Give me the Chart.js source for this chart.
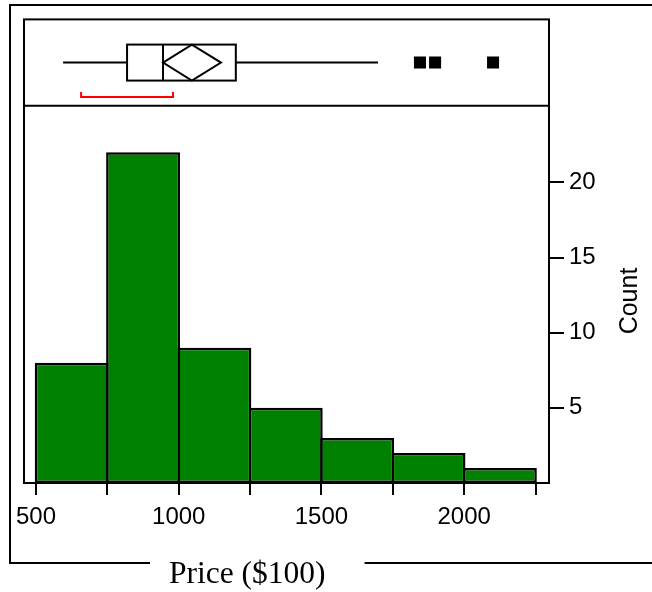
<!DOCTYPE html>
<html>
<head>
<meta charset="utf-8">
<title>Price distribution</title>
<script src="https://cdn.jsdelivr.net/npm/chart.js@4/dist/chart.umd.min.js"></script>
<style>
  html, body { margin: 0; padding: 0; background: #fff; }
  #wrap { width: 652px; height: 592px; }
</style>
</head>
<body>
<div id="wrap"><canvas id="c" width="652" height="592"></canvas></div>
<script>
// Histogram bins ($100) and the number of prices in each bin
const binEdges = [500, 750, 1000, 1250, 1500, 1750, 2000, 2250];
const binCounts = [8, 22, 9, 5, 3, 2, 1];

// Outlier box plot of the same prices
const whiskerEnds = [595, 1698];
const quartiles = [819, 1200];
const median = [945];
const meanDiamond = [945, 1046, 1148];   // lower 95% limit, mean, upper 95% limit
const shortestHalf = [658, 980];
const outliers = [1845, 1898, 2101];

// Axis ticks
const xTickMarks = [500, 750, 1000, 1250, 1500, 1750, 2000, 2250];
const xTickLabels = ['500', '', '1000', '', '1500', '', '2000', ''];
const yTickMarks = [5, 10, 15, 20];

const ROW = 'Price';
const SANS = '"Liberation Sans", Arial, sans-serif';
const SERIF = '"Liberation Serif", "Times New Roman", serif';

Chart.defaults.font.family = SANS;
Chart.defaults.color = '#000';

function seg(ctx, x1, y1, x2, y2) {
  ctx.beginPath();
  ctx.moveTo(x1, y1);
  ctx.lineTo(x2, y2);
  ctx.stroke();
}

// Box plot drawn in the strip above the histogram, on the shared x scale
const boxPlot = {
  id: 'boxPlot',
  afterDatasetsDraw(chart) {
    const { ctx, scales } = chart;
    const px = v => scales.x.getPixelForValue(v);
    const cy = scales.yBox.getPixelForValue(0);
    const h = 18;
    ctx.save();
    ctx.strokeStyle = '#000';
    ctx.lineWidth = 2;
    seg(ctx, px(whiskerEnds[0]), cy, px(quartiles[0]), cy);
    seg(ctx, px(quartiles[1]), cy, px(whiskerEnds[1]), cy);
    ctx.strokeRect(px(quartiles[0]), cy - h, px(quartiles[1]) - px(quartiles[0]), 2 * h);
    seg(ctx, px(median[0]), cy - h, px(median[0]), cy + h);
    ctx.beginPath();
    ctx.moveTo(px(meanDiamond[0]), cy);
    ctx.lineTo(px(meanDiamond[1]), cy - h);
    ctx.lineTo(px(meanDiamond[2]), cy);
    ctx.lineTo(px(meanDiamond[1]), cy + h);
    ctx.closePath();
    ctx.stroke();
    // shortest half bracket
    ctx.strokeStyle = '#ff0000';
    ctx.beginPath();
    ctx.moveTo(px(shortestHalf[0]), cy + 29.5);
    ctx.lineTo(px(shortestHalf[0]), cy + 34.5);
    ctx.lineTo(px(shortestHalf[1]), cy + 34.5);
    ctx.lineTo(px(shortestHalf[1]), cy + 29.5);
    ctx.stroke();
    ctx.restore();
  }
};

// Plot frame, outer frame and axis captions
const frames = {
  id: 'frames',
  afterDraw(chart) {
    const { ctx, chartArea: a, scales } = chart;
    ctx.save();
    ctx.strokeStyle = '#000';
    ctx.lineWidth = 2;
    ctx.strokeRect(a.left, a.top, a.right - a.left, a.bottom - a.top);
    seg(ctx, a.left, scales.yBox.bottom, a.right, scales.yBox.bottom);

    ctx.fillStyle = '#000';
    ctx.font = '31.5px ' + SERIF;
    ctx.textAlign = 'left';
    ctx.textBaseline = 'alphabetic';
    const caption = 'Price ($100)';
    const capX = 169;
    ctx.fillText(caption, capX, 583);
    const capW = ctx.measureText(caption).width;

    seg(ctx, 10, 5, 652, 5);
    seg(ctx, 10, 4, 10, 564);
    seg(ctx, 9, 563, capX - 19, 563);
    seg(ctx, capX + capW + 39, 563, 652, 563);

    ctx.save();
    ctx.translate(630, 301);
    ctx.rotate(-Math.PI / 2);
    ctx.font = '25px ' + SANS;
    ctx.textAlign = 'center';
    ctx.textBaseline = 'middle';
    ctx.fillText('Count', 0, 0);
    ctx.restore();
    ctx.restore();
  }
};

new Chart(document.getElementById('c'), {
  type: 'bar',
  data: {
    datasets: [
      {
        type: 'bar',
        label: 'Count',
        data: binCounts.map((c, i) => ({ x: (binEdges[i] + binEdges[i + 1]) / 2, y: c })),
        xAxisID: 'x',
        yAxisID: 'y',
        backgroundColor: '#008000',
        borderColor: '#000',
        borderWidth: 2.5,
        borderSkipped: false,
        barPercentage: 1.035,
        categoryPercentage: 1
      },
      {
        type: 'scatter',
        label: 'Outliers',
        data: outliers.map(v => ({ x: v, y: ROW })),
        xAxisID: 'x',
        yAxisID: 'yBox',
        pointStyle: 'rect',
        radius: 8.5,
        backgroundColor: '#000',
        borderColor: '#000',
        borderWidth: 0
      }
    ]
  },
  options: {
    responsive: false,
    animation: false,
    layout: { padding: { left: 24, top: 16, right: 0, bottom: 0 } },
    plugins: { legend: { display: false }, tooltip: { enabled: false } },
    scales: {
      yBox: {
        type: 'category',
        labels: [ROW],
        position: 'right',
        stack: 'v',
        stackWeight: 87,
        weight: 0,
        offset: true,
        display: false
      },
      y: {
        type: 'linear',
        position: 'right',
        stack: 'v',
        stackWeight: 380,
        weight: 1,
        min: 0,
        max: 25.1,
        afterBuildTicks: s => { s.ticks = yTickMarks.map(v => ({ value: v })); },
        afterFit: s => { s.width = 103; },
        ticks: { font: { size: 24 }, padding: 5, color: '#000' },
        grid: { drawOnChartArea: false, tickLength: 15, lineWidth: 2, color: '#000' },
        border: { display: true, width: 2, color: '#000' }
      },
      x: {
        type: 'linear',
        position: 'bottom',
        min: 458,
        max: 2297,
        offset: false,
        afterBuildTicks: s => { s.ticks = xTickMarks.map(v => ({ value: v })); },
        afterFit: s => { s.height = 109; },
        ticks: {
          font: { size: 24 },
          padding: 8,
          color: '#000',
          maxRotation: 0,
          autoSkip: false,
          callback: (v, i) => xTickLabels[i]
        },
        grid: { drawOnChartArea: false, offset: false, tickLength: 12, lineWidth: 2, color: '#000' },
        border: { display: true, width: 2, color: '#000' }
      }
    }
  },
  plugins: [boxPlot, frames]
});
</script>
</body>
</html>
